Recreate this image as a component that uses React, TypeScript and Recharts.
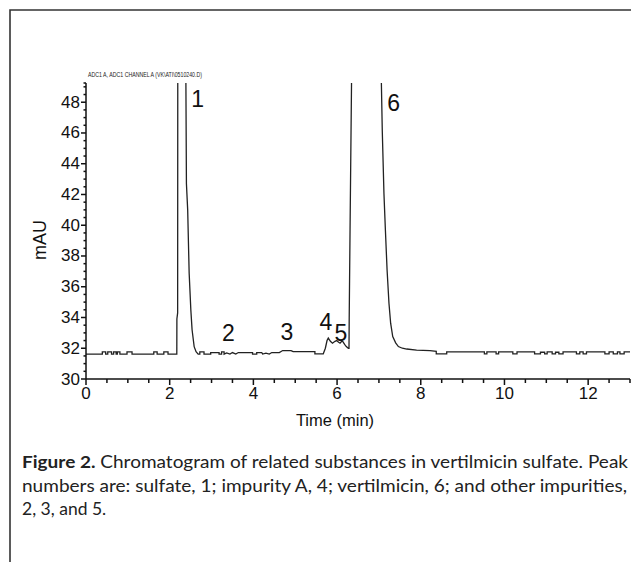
import React from 'react';
import { ComposedChart, Line, XAxis, YAxis, ReferenceDot } from 'recharts';

// [time (min), signal (mAU)]
const baselineA: [number, number][] = [
  [0, 31.62], [0.39, 31.62], [0.39, 31.76], [0.47, 31.76], [0.47, 31.62], [0.52, 31.62], [0.52, 31.76],
  [0.61, 31.76], [0.61, 31.62], [0.66, 31.62], [0.66, 31.76], [0.72, 31.76], [0.72, 31.62], [0.75, 31.62],
  [0.75, 31.76], [0.81, 31.76], [0.81, 31.62], [0.98, 31.62], [0.98, 31.76], [1.1, 31.76], [1.1, 31.62],
  [1.62, 31.62], [1.62, 31.76], [1.7, 31.76], [1.7, 31.62], [1.86, 31.62], [1.86, 31.76], [1.96, 31.76],
  [1.96, 31.62], [2.17, 31.62],
];
const peak1: [number, number][] = [
  [2.172, 33.9], [2.19, 34.3], [2.195, 60], [2.375, 60], [2.385, 50.5], [2.4, 42.7], [2.43, 41.0],
  [2.465, 36.9], [2.505, 34.5], [2.535, 33.2], [2.585, 32.1], [2.63, 31.78], [2.68, 31.62],
];
const baselineB: [number, number][] = [
  [2.72, 31.62], [2.72, 31.76], [2.82, 31.76], [2.82, 31.62], [2.98, 31.62], [2.98, 31.72], [3.18, 31.72],
  [3.18, 31.62], [3.24, 31.62], [3.24, 31.76], [3.3, 31.76], [3.3, 31.62], [3.36, 31.7], [3.44, 31.62],
  [3.5, 31.72], [3.58, 31.62], [3.64, 31.72], [3.98, 31.72], [3.98, 31.62], [4.08, 31.62], [4.08, 31.72],
  [4.2, 31.72], [4.22, 31.62], [4.3, 31.68], [4.38, 31.62], [4.44, 31.72], [4.62, 31.72], [4.7, 31.85],
  [4.9, 31.85], [4.95, 31.78], [5.47, 31.78], [5.47, 31.64], [5.67, 31.64],
];
const peaks45: [number, number][] = [
  [5.72, 32.0], [5.76, 32.5], [5.79, 32.66], [5.84, 32.45], [5.89, 32.33], [5.95, 32.45], [5.99, 32.5],
  [6.03, 32.4], [6.07, 32.33], [6.1, 32.42], [6.13, 32.46], [6.18, 32.25], [6.22, 32.11], [6.27, 32.0],
];
const peak6: [number, number][] = [
  [6.285, 32.0], [6.29, 34.0], [6.31, 39.7], [6.35, 50.5], [6.36, 60], [7.04, 60], [7.05, 50.5],
  [7.08, 46.16], [7.12, 42.06], [7.155, 39.68], [7.195, 37.09], [7.24, 34.93], [7.28, 33.63], [7.33, 32.76],
  [7.4, 32.35], [7.465, 32.11], [7.56, 32.0], [7.665, 31.95], [7.9, 31.88], [8.22, 31.84],
];
const baselineC: [number, number][] = [
  [8.37, 31.8], [8.37, 31.64], [8.62, 31.64], [8.62, 31.77], [9.52, 31.77], [9.52, 31.64], [9.58, 31.64],
  [9.58, 31.77], [9.8, 31.77], [9.8, 31.64], [9.86, 31.64], [9.86, 31.77], [10.2, 31.77], [10.2, 31.64],
  [10.3, 31.64], [10.3, 31.77], [10.72, 31.77], [10.72, 31.64], [10.86, 31.64], [10.86, 31.74], [10.96, 31.74],
  [10.96, 31.64], [11.02, 31.64], [11.02, 31.77], [11.14, 31.77], [11.14, 31.64], [11.22, 31.64], [11.22, 31.74],
  [11.3, 31.74], [11.3, 31.64], [11.4, 31.64], [11.4, 31.77], [11.72, 31.77], [11.72, 31.64], [11.8, 31.64],
  [11.8, 31.77], [11.88, 31.77], [11.88, 31.64], [11.96, 31.64], [11.96, 31.77], [12.4, 31.77], [12.4, 31.64],
  [12.5, 31.64], [12.5, 31.77], [12.6, 31.77], [12.6, 31.64], [12.7, 31.64], [12.7, 31.77], [12.76, 31.77],
  [12.76, 31.64], [12.86, 31.64], [12.86, 31.77], [13, 31.77],
];

const xTicks = [0, 0.5, 1, 1.5, 2, 2.5, 3, 3.5, 4, 4.5, 5, 5.5, 6, 6.5, 7, 7.5, 8, 8.5, 9, 9.5, 10, 10.5, 11, 11.5, 12, 12.5, 13];
const xLabelTicks = [0, 2, 4, 6, 8, 10, 12];
const yTicks = [30, 30.5, 31, 31.5, 32, 32.5, 33, 33.5, 34, 34.5, 35, 35.5, 36, 36.5, 37, 37.5, 38, 38.5, 39, 39.5, 40,
  40.5, 41, 41.5, 42, 42.5, 43, 43.5, 44, 44.5, 45, 45.5, 46, 46.5, 47, 47.5, 48, 48.5, 49, 49.25];
const yLabelTicks = [30, 32, 34, 36, 38, 40, 42, 44, 46, 48];

const peakLabels = [
  { name: '1', t: 2.67, v: 48.2, size: 23 },
  { name: '6', t: 7.35, v: 47.95, size: 23 },
  { name: '2', t: 3.4, v: 33.0, size: 23 },
  { name: '3', t: 4.8, v: 33.05, size: 23 },
  { name: '4', t: 5.73, v: 33.7, size: 23 },
  { name: '5', t: 6.09, v: 32.97, size: 23 },
];

const data = [...baselineA, ...peak1, ...baselineB, ...peaks45, ...peak6, ...baselineC].map(([t, v]) => ({ t, v }));

const AX = '#111';
const SANS = 'Liberation Sans, Arial, sans-serif';

const YTick = (props: any) => {
  const { x, y, payload } = props;
  const v = payload.value;
  const major = yLabelTicks.includes(v);
  const len = major ? 5 : 2.5;
  return (
    <g>
      <line x1={x - len} x2={x} y1={y} y2={y} stroke={AX} strokeWidth={1.5} />
      {major && (
        <text x={x - 6} y={y} textAnchor="end" dominantBaseline="central" fontSize={17} fontFamily={SANS} fill={AX}>
          {v}
        </text>
      )}
    </g>
  );
};

const XTick = (props: any) => {
  const { x, y, payload } = props;
  const v = payload.value;
  const major = xLabelTicks.includes(v);
  const len = major ? 6 : 4;
  return (
    <g>
      <line x1={x} x2={x} y1={y} y2={y + len} stroke={AX} strokeWidth={1.5} />
      {major && (
        <text x={x} y={y + 20} textAnchor="middle" fontSize={17} fontFamily={SANS} fill={AX}>
          {v}
        </text>
      )}
    </g>
  );
};

export default function App() {
  return (
    <div style={{ position: 'absolute', left: 0, top: 0, width: 631, height: 562, background: '#fff', overflow: 'hidden' }}>
      <svg style={{ position: 'absolute', left: 0, top: 0 }} width={631} height={562}>
        <path d="M10 600 L10 10 L640 10" fill="none" stroke="#333" strokeWidth={1.6} />
        <text x={88} y={77} fontSize={7.5} fontFamily={SANS} fill="#222" textLength={114} lengthAdjust="spacingAndGlyphs">
          ADC1 A, ADC1 CHANNEL A (VK\ATI\0510240.D)
        </text>
        <text x={40} y={240} transform="rotate(-90 40 240)" textAnchor="middle" dominantBaseline="central" fontSize={18} fontFamily={SANS} fill={AX}>
          mAU
        </text>
        <text x={335} y={420} textAnchor="middle" dominantBaseline="central" fontSize={16.5} fontFamily={SANS} fill={AX}>
          Time (min)
        </text>
        <text x={22} y={468} fontSize={17.5} fontFamily="Lato, sans-serif" fill="#222" textLength={606} lengthAdjust="spacingAndGlyphs">
          <tspan fontWeight="bold">Figure 2.</tspan> Chromatogram of related substances in vertilmicin sulfate. Peak
        </text>
        <text x={22} y={492} fontSize={17.5} fontFamily="Lato, sans-serif" fill="#222" textLength={605} lengthAdjust="spacingAndGlyphs">
          numbers are: sulfate, 1; impurity A, 4; vertilmicin, 6; and other impurities,
        </text>
        <text x={22} y={515} fontSize={17.5} fontFamily="Lato, sans-serif" fill="#222">
          2, 3, and 5.
        </text>
      </svg>
      <div style={{ position: 'absolute', left: 0, top: 0 }}>
        <ComposedChart width={631} height={562} data={data} margin={{ top: 83, right: 1, left: 36, bottom: 153 }}>
          <XAxis
            dataKey="t"
            type="number"
            domain={[0, 13]}
            ticks={xTicks}
            interval={0}
            tickSize={0}
            tickMargin={0}
            tick={(p: any) => <XTick {...p} />}
            axisLine={{ stroke: AX, strokeWidth: 1.5 }}
            height={30}
            allowDataOverflow
          />
          <YAxis
            type="number"
            domain={[30, 49.25]}
            ticks={yTicks}
            interval={0}
            tickSize={0}
            tickMargin={0}
            tick={(p: any) => <YTick {...p} />}
            axisLine={{ stroke: AX, strokeWidth: 1.5 }}
            width={50}
            allowDataOverflow
          />
          <Line dataKey="v" type="linear" dot={false} stroke="#222" strokeWidth={1.3} isAnimationActive={false} />
          {peakLabels.map((p) => (
            <ReferenceDot
              key={p.name}
              x={p.t}
              y={p.v}
              r={0}
              shape={(s: any) => (
                <text x={s.cx} y={s.cy} textAnchor="middle" dominantBaseline="central" fontSize={p.size} fontFamily={SANS} fill={AX}>
                  {p.name}
                </text>
              )}
            />
          ))}
        </ComposedChart>
      </div>
    </div>
  );
}
